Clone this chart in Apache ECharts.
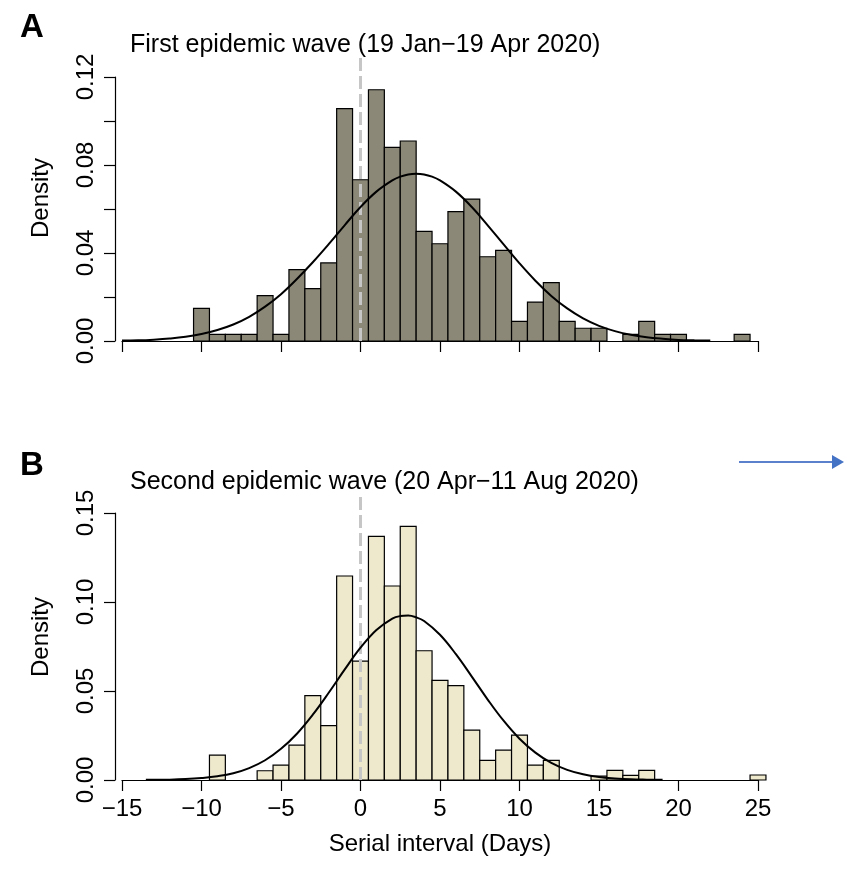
<!DOCTYPE html>
<html>
<head>
<meta charset="utf-8">
<script src="https://cdn.jsdelivr.net/npm/echarts@6/dist/echarts.min.js"></script>
<style>
  html, body { margin: 0; padding: 0; background: #ffffff; }
  #chart { width: 844px; height: 872px; }
</style>
</head>
<body>
<div id="chart"></div>
<script>
// Histogram bins of width 1 day, centred on whole days (density scale)
const waveOneDays = [-10, -9, -8, -7, -6, -5, -4, -3, -2, -1, 0, 1, 2, 3, 4, 5, 6, 7, 8, 9, 10, 11, 12, 13, 14, 15, 17, 18, 19, 20, 24];
const waveOneDensity = [0.0148, 0.0030, 0.0030, 0.0030, 0.0206, 0.0030, 0.0324, 0.0238, 0.0355, 0.1056, 0.0733, 0.1142, 0.0880, 0.0909, 0.0498, 0.0442, 0.0588, 0.0645, 0.0383, 0.0412, 0.0089, 0.0177, 0.0265, 0.0089, 0.0058, 0.0058, 0.0030, 0.0089, 0.0030, 0.0030, 0.0030];

const waveTwoDays = [-9, -6, -5, -4, -3, -2, -1, 0, 1, 2, 3, 4, 5, 6, 7, 8, 9, 10, 11, 12, 15, 16, 17, 18, 25];
const waveTwoDensity = [0.0140, 0.0052, 0.0084, 0.0196, 0.0474, 0.0306, 0.1146, 0.0668, 0.1369, 0.1090, 0.1425, 0.0726, 0.0560, 0.0530, 0.0280, 0.0110, 0.0168, 0.0252, 0.0084, 0.0110, 0.0022, 0.0054, 0.0026, 0.0054, 0.0028];

// Fitted normal density curves, sampled along the x axis
const curveOneX = [-15, -14, -13, -12, -11, -10, -9, -8, -7, -6, -5, -4, -3, -2, -1, 0, 1, 2, 2.5, 3, 3.5, 4, 4.5, 5, 6, 7, 8, 9, 10, 11, 12, 13, 14, 15, 16, 17, 18, 19, 20, 21, 22];
const curveOneY = [0.0002, 0.0003, 0.0006, 0.0011, 0.0019, 0.0032, 0.0050, 0.0075, 0.0110, 0.0156, 0.0213, 0.0282, 0.0358, 0.0440, 0.0526, 0.0609, 0.0679, 0.0730, 0.0747, 0.0757, 0.0760, 0.0757, 0.0747, 0.0730, 0.0679, 0.0609, 0.0526, 0.0439, 0.0353, 0.0274, 0.0205, 0.0148, 0.0103, 0.0069, 0.0045, 0.0028, 0.0017, 0.0010, 0.0005, 0.0003, 0.0002];

const curveTwoX = [-13.5, -13, -12, -11, -10, -9, -8, -7, -6, -5, -4, -3, -2, -1, 0, 1, 2, 2.5, 3, 3.5, 4, 5, 6, 7, 8, 9, 10, 11, 12, 13, 14, 15, 16, 17, 18, 19];
const curveTwoY = [0.0001, 0.0001, 0.0002, 0.0005, 0.0011, 0.0021, 0.0038, 0.0067, 0.0111, 0.0175, 0.0260, 0.0367, 0.0490, 0.0620, 0.0743, 0.0843, 0.0907, 0.0921, 0.0924, 0.0914, 0.0893, 0.0816, 0.0707, 0.0581, 0.0452, 0.0333, 0.0232, 0.0154, 0.0096, 0.0057, 0.0032, 0.0017, 0.0009, 0.0004, 0.0002, 0.0001];

// Axis tick settings
const xTickMin = -15, xTickMax = 25, xTickStep = 5;
const yOneMax = 0.12, yOneStep = 0.02;
const yTwoMax = 0.15, yTwoStep = 0.05;

const FONT = "'Liberation Sans', Arial, Helvetica, sans-serif";

function pairs(xs, ys) { return xs.map((x, i) => [x, ys[i]]); }

function minusSign(v) { return v < 0 ? '\u2212' + Math.abs(v) : String(v); }

function binRenderer(fill) {
  return function (params, api) {
    const x = api.value(0), y = api.value(1);
    const topLeft = api.coord([x - 0.5, y]);
    const bottomRight = api.coord([x + 0.5, 0]);
    return {
      type: 'rect',
      shape: { x: topLeft[0], y: topLeft[1], width: bottomRight[0] - topLeft[0], height: bottomRight[1] - topLeft[1] },
      style: { fill: fill, stroke: '#000000', lineWidth: 1.2 }
    };
  };
}

function xAxisFor(gridIndex, showLabels) {
  return {
    type: 'value', gridIndex: gridIndex,
    min: xTickMin, max: xTickMax, interval: xTickStep,
    axisLine: { show: true, onZero: false, lineStyle: { color: '#000', width: 1.2 } },
    axisTick: { show: true, length: 11, lineStyle: { color: '#000', width: 1.2 } },
    axisLabel: { show: showLabels, formatter: minusSign, fontSize: 24, color: '#000', fontFamily: FONT, margin: 17 },
    splitLine: { show: false }
  };
}

function yAxisFor(gridIndex, max, step, labelEvery) {
  return {
    type: 'value', gridIndex: gridIndex,
    min: 0, max: max, interval: step, offset: 7,
    axisLine: { show: true, onZero: false, lineStyle: { color: '#000', width: 1.2 } },
    axisTick: { show: true, length: 11, lineStyle: { color: '#000', width: 1.2 } },
    axisLabel: {
      rotate: 90, fontSize: 24, color: '#000', fontFamily: FONT, margin: 17,
      formatter: function (v) {
        const k = Math.round(v / step);
        return (k % labelEvery === 0) ? v.toFixed(2) : '';
      }
    },
    splitLine: { show: false }
  };
}

const chart = echarts.init(document.getElementById('chart'), null, { renderer: 'canvas' });

chart.setOption({
  animation: false,
  backgroundColor: '#ffffff',
  grid: [
    { left: 122, right: 86, top: 77, height: 264 },
    { left: 122, right: 86, top: 513, height: 267 }
  ],
  xAxis: [xAxisFor(0, false), xAxisFor(1, true)],
  yAxis: [yAxisFor(0, yOneMax, yOneStep, 2), yAxisFor(1, yTwoMax, yTwoStep, 1)],
  series: [
    {
      type: 'custom', xAxisIndex: 0, yAxisIndex: 0, z: 2,
      renderItem: binRenderer('#8B8878'),
      encode: { x: 0, y: 1 },
      data: pairs(waveOneDays, waveOneDensity)
    },
    {
      type: 'line', xAxisIndex: 0, yAxisIndex: 0, z: 3, clip: false,
      symbol: 'none', silent: true,
      lineStyle: { color: '#c6c6c6', width: 3, type: [13, 5] },
      data: [[0, 0], [0, 0.13]]
    },
    {
      type: 'line', xAxisIndex: 0, yAxisIndex: 0, z: 4,
      symbol: 'none', smooth: 0.4,
      lineStyle: { color: '#000', width: 2 },
      data: pairs(curveOneX, curveOneY)
    },
    {
      type: 'custom', xAxisIndex: 1, yAxisIndex: 1, z: 2,
      renderItem: binRenderer('#EEE8CD'),
      encode: { x: 0, y: 1 },
      data: pairs(waveTwoDays, waveTwoDensity)
    },
    {
      type: 'line', xAxisIndex: 1, yAxisIndex: 1, z: 3, clip: false,
      symbol: 'none', silent: true,
      lineStyle: { color: '#c6c6c6', width: 3, type: [13, 5] },
      data: [[0, 0], [0, 0.16]]
    },
    {
      type: 'line', xAxisIndex: 1, yAxisIndex: 1, z: 4,
      symbol: 'none', smooth: 0.4,
      lineStyle: { color: '#000', width: 2 },
      data: pairs(curveTwoX, curveTwoY)
    }
  ],
  graphic: [
    { type: 'text', x: 20, y: 28, style: { text: 'A', font: 'bold 33px ' + FONT, fill: '#000', verticalAlign: 'middle' } },
    { type: 'text', x: 130, y: 45, style: { text: 'First epidemic wave (19 Jan\u221219 Apr 2020)', font: '25px ' + FONT, fill: '#000', verticalAlign: 'middle' } },
    { type: 'text', x: 41, y: 198, rotation: Math.PI / 2, style: { text: 'Density', font: '24px ' + FONT, fill: '#000', align: 'center', verticalAlign: 'middle' } },
    { type: 'text', x: 20, y: 466, style: { text: 'B', font: 'bold 33px ' + FONT, fill: '#000', verticalAlign: 'middle' } },
    { type: 'text', x: 130, y: 482, style: { text: 'Second epidemic wave (20 Apr\u221211 Aug 2020)', font: '25px ' + FONT, fill: '#000', verticalAlign: 'middle' } },
    { type: 'text', x: 41, y: 637, rotation: Math.PI / 2, style: { text: 'Density', font: '24px ' + FONT, fill: '#000', align: 'center', verticalAlign: 'middle' } },
    { type: 'text', x: 440, y: 844, style: { text: 'Serial interval (Days)', font: '24px ' + FONT, fill: '#000', align: 'center', verticalAlign: 'middle' } },
    { type: 'line', shape: { x1: 739, y1: 462, x2: 834, y2: 462 }, style: { stroke: '#5b80cc', lineWidth: 2 } },
    { type: 'polygon', shape: { points: [[832, 455], [844, 462], [832, 469]] }, style: { fill: '#4472C4' } }
  ]
});
</script>
</body>
</html>
